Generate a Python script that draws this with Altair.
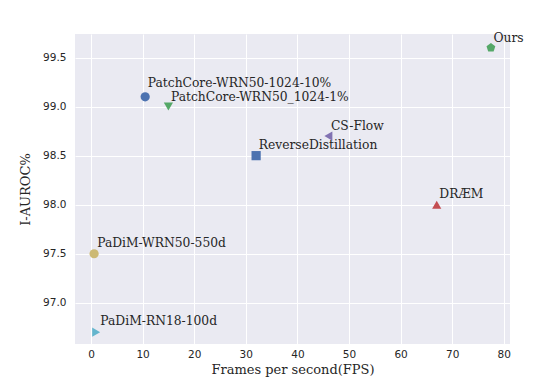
import altair as alt
import pandas as pd

methods = ["Ours", "PatchCore-WRN50-1024-10%", "PatchCore-WRN50_1024-1%", "CS-Flow",
           "ReverseDistillation", "DRÆM", "PaDiM-WRN50-550d", "PaDiM-RN18-100d"]
fps = [77.5, 10.5, 15.0, 46.0, 32.0, 67.0, 0.6, 1.0]
auroc = [99.6, 99.1, 99.0, 98.7, 98.5, 98.0, 97.5, 96.7]
label_fps = [78.0, 11.0, 15.5, 46.5, 32.5, 67.5, 1.2, 1.8]
label_auroc = [99.7, 99.24, 99.1, 98.8, 98.61, 98.11, 97.61, 96.81]
colors = ["#55A868", "#4C72B0", "#55A868", "#8172B2", "#4C72B0", "#C44E52", "#CCB974", "#64B5CD"]
pentagon = "M0,-1L0.951,-0.309L0.588,0.809L-0.588,0.809L-0.951,-0.309Z"
shapes = [pentagon, "circle", "triangle-down", "triangle-left", "square", "triangle-up", "circle", "triangle-right"]

df = pd.DataFrame({"method": methods, "fps": fps, "auroc": auroc,
                   "lx": label_fps, "ly": label_auroc})

xscale = alt.Scale(domain=[-3.1, 81.2], nice=False, zero=False)
yscale = alt.Scale(domain=[96.58, 99.74], nice=False, zero=False)

points = alt.Chart(df).mark_point(filled=True, size=85, opacity=1).encode(
    x=alt.X("fps:Q", scale=xscale,
            axis=alt.Axis(values=list(range(0, 81, 10)), title="Frames per second(FPS)")),
    y=alt.Y("auroc:Q", scale=yscale,
            axis=alt.Axis(values=[97.0, 97.5, 98.0, 98.5, 99.0, 99.5], format=".1f", title="I-AUROC%")),
    color=alt.Color("method:N", scale=alt.Scale(domain=methods, range=colors), legend=None),
    shape=alt.Shape("method:N", scale=alt.Scale(domain=methods, range=shapes), legend=None),
)

labels = alt.Chart(df).mark_text(align="left", baseline="middle", font="DejaVu Serif",
                                 fontSize=12.3, color="#262626").encode(
    x=alt.X("lx:Q", scale=xscale),
    y=alt.Y("ly:Q", scale=yscale),
    text="method:N",
)

chart = (points + labels).properties(
    width=435, height=310,
    padding={"top": 23, "left": 11, "right": 5, "bottom": 5},
).configure_view(
    fill="#EAEAF2", stroke=None
).configure_axis(
    grid=True, gridColor="white", gridWidth=1, domain=False, ticks=False,
    labelFont="DejaVu Sans", labelFontSize=10.5, labelColor="#262626",
    titleFont="DejaVu Serif", titleFontSize=13, titleFontWeight="normal", titleColor="#262626",
).configure_axisY(titlePadding=10, labelPadding=9).configure_axisX(titlePadding=4, labelPadding=5)

chart.save("out.html", embed_options={"renderer": "svg", "actions": False})
